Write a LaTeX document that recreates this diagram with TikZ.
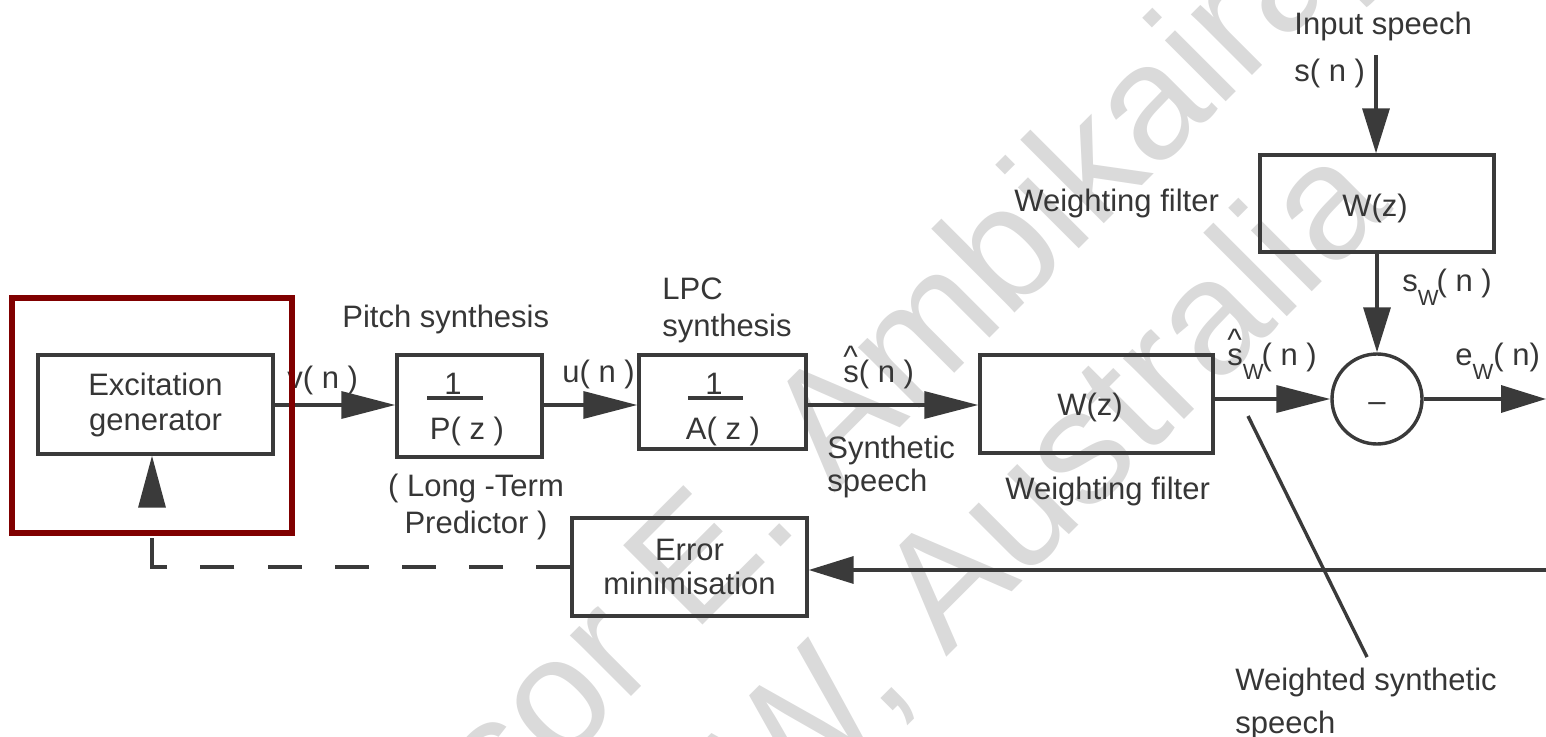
\documentclass[tikz,border=0pt]{standalone}
\usepackage{fontspec}
\setmainfont{Liberation Sans}
\usetikzlibrary{arrows.meta}
\definecolor{lc}{HTML}{3A3A3A}
\definecolor{tc}{HTML}{363636}
\definecolor{hl}{HTML}{800000}
\definecolor{wm}{HTML}{DADADA}
\newcommand\dtxt{\fontsize{15.5}{18.5}\selectfont}
\newcommand\subW{\raisebox{-7pt}{\fontsize{11}{11}\selectfont W}}
\newcommand\hatS{\rlap{\raisebox{0.46em}{\textasciicircum}}s}
\begin{document}
\begin{tikzpicture}[x=0.5pt,y=-0.5pt,
  ln/.style={draw=lc, line width=1.7pt},
  blk/.style={draw=lc, line width=1.7pt, rectangle, inner sep=0pt, align=center, font=\dtxt, text=tc},
  lbl/.style={font=\dtxt, text=tc, inner sep=0pt},
  arr/.style={ln, -{Triangle[length=27pt,width=13.5pt]}},
  arrs/.style={ln, -{Triangle[length=22.5pt,width=13.5pt]}},
  wmark/.style={text=wm, inner sep=0pt, rotate=45, anchor=base west, font=\fontsize{81.5}{90}\selectfont},
]
\useasboundingbox (0,0) rectangle (1546,737);
% watermark
\node[wmark] (wm1) at (168,1160) {Professor E. Ambikairajah};
\node[wmark] (wm2) at (536,1068) {UNSW, Australia};

% blocks
\node[blk, minimum width=117.5pt, minimum height=49.5pt, font=\fontsize{15.5}{17.5}\selectfont] (exc) at (155.5,404.5) {Excitation\\generator};
\node[blk, minimum width=72.5pt, minimum height=51pt] (pitch) at (469.5,406) {};
\node[blk, minimum width=83.5pt, minimum height=47pt] (lpc) at (722.5,402) {};
\node[blk, minimum width=116.5pt, minimum height=49pt] (wlow) at (1096.5,404) {};
\node[blk, minimum width=117pt, minimum height=48.5pt] (wtop) at (1377,203.5) {};
\node[blk, minimum width=117.5pt, minimum height=49pt, font=\fontsize{15.5}{17}\selectfont] (err) at (689.5,567) {Error\\minimisation};
\node[draw=lc, line width=1.7pt, circle, minimum size=45pt, inner sep=0pt] (circ) at (1377,399) {};
\node[lbl] (minus) at (1377,407) {–};

% contents of blocks
\node[lbl] (p1) at (453,384) {1};
\node[lbl] (pz) at (467,431) {P( z )};
\draw[ln, line width=1.8pt] (427,398) -- (483,398);
\node[lbl] (a1) at (714,384) {1};
\node[lbl] (az) at (723,431) {A( z )};
\draw[ln, line width=1.8pt] (688,398) -- (743,398);
\node[lbl] (wz1) at (1090,407) {W(z)};
\node[lbl] (wz2) at (1375,208) {W(z)};

% labels
\node[lbl, anchor=base west] (vn) at (287,388) {v( n )};
\node[lbl, anchor=base west] (un) at (562,383) {u( n )};
\node[lbl, anchor=base west] (shn) at (843,382) {\hatS( n )};
\node[lbl, anchor=base west] (shwn) at (1227,365) {\hatS\subW\kern-1pt( n )};
\node[lbl, anchor=base west] (ewn) at (1455,365) {e\subW( n)};
\node[lbl, anchor=base west] (swn) at (1402,292) {s\subW\kern-1pt( n )};
\node[lbl, anchor=base west] (sn) at (1294,82) {s( n )};
\node[lbl, anchor=base west] (insp) at (1294,35) {Input speech};
\node[lbl, anchor=base west] (wf1) at (1014,212) {Weighting filter};
\node[lbl, anchor=base west] (wf2) at (1005,499) {Weighting filter};
\node[lbl, anchor=base west] (pitchl) at (342,328) {Pitch synthesis};
\node[lbl, anchor=north west, align=left, font=\fontsize{15.5}{18.5}\selectfont] (lpcl) at (662,277) {LPC\\synthesis};
\node[lbl, anchor=north west, align=left, font=\fontsize{15.5}{16.5}\selectfont] (synl) at (827,436) {Synthetic\\speech};
\node[lbl, align=center, font=\fontsize{15.5}{18.5}\selectfont] (ltp) at (476,507) {( Long -Term\\Predictor )};
\node[lbl, anchor=north west, align=left, font=\fontsize{15.5}{21.5}\selectfont] (wss) at (1235,668) {Weighted synthetic\\speech};

% coordinates
\coordinate (ml) at (0,405);
\coordinate (inp) at (1376,55);
\coordinate (outp) at (1546,399);
\coordinate (fbin) at (1546,570);
\coordinate (corner) at (152,567);
\coordinate (fbend) at (152,538);
\coordinate (upb) at (152,506);
\coordinate (ptop) at (1248,416);
\coordinate (pbot) at (1367,657);

% connectors
\draw[arr] (exc.east |- ml) -- (pitch.west |- ml);
\draw[arr] (pitch.east |- ml) -- (lpc.west |- ml);
\draw[arr] (lpc.east |- ml) -- (wlow.west |- ml);
\draw[arr] (wlow.east |- circ) -- (circ.west);
\draw[arrs] (circ.east) -- (outp);
\draw[arrs] (inp) -- (wtop.north -| inp);
\draw[arrs] (wtop.south -| circ) -- (circ.north);
\draw[arrs] (fbin) -- (err.east |- fbin);
\draw[ln, -{Triangle[length=26pt,width=13.5pt]}] (upb) -- (upb |- exc.south);
\draw[ln, dash pattern=on 17pt off 16.6pt on 17pt off 16.6pt on 17pt off 16.6pt on 17pt off 16.6pt on 17pt off 16.6pt on 17pt off 16.6pt on 30pt off 0pt] (err.west) -- (corner) -- (fbend);
\draw[ln] (ptop) -- (pbot);

% highlight box
\draw[draw=hl, line width=3pt] (12,298) rectangle (292,533);
\end{tikzpicture}
\end{document}
